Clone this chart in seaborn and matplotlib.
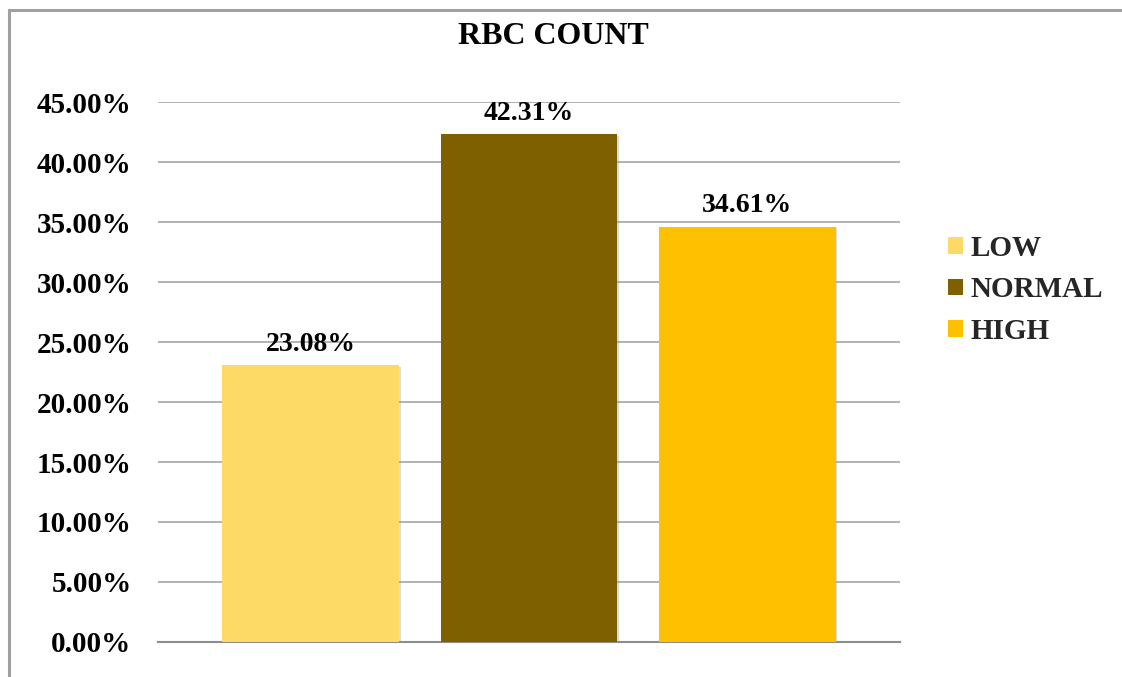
import matplotlib
matplotlib.use("Agg")
import matplotlib.pyplot as plt
import matplotlib.patheffects as pe
from matplotlib.lines import Line2D
from matplotlib.patches import Patch
import seaborn as sns
import pandas as pd

# RBC count distribution
levels = ["LOW", "NORMAL", "HIGH"]
percentages = [23.08, 42.31, 34.61]
bar_colors = ["#FDD966", "#7F6000", "#FFC000"]
y_ticks = [0, 5, 10, 15, 20, 25, 30, 35, 40, 45]
y_tick_labels = ["0.00%", "5.00%", "10.00%", "15.00%", "20.00%",
                 "25.00%", "30.00%", "35.00%", "40.00%", "45.00%"]
title = "RBC COUNT"

sns.set_theme(style="white")
plt.rcParams["font.family"] = ["Liberation Serif", "DejaVu Serif"]
plt.rcParams["font.weight"] = "bold"

df = pd.DataFrame({"level": levels, "pct": percentages})
palette = dict(zip(levels, bar_colors))

W, H = 1122, 677
fig = plt.figure(figsize=(W / 100, H / 100), dpi=100)
ax = fig.add_axes([158 / W, 1 - 642 / H, (900 - 158) / W, (642 - 102) / H])

sns.barplot(data=df, x="level", y="pct", hue="level", order=levels,
            hue_order=levels, palette=palette, saturation=1, width=0.81,
            dodge=False, legend=False, ax=ax, zorder=3)

shadow = [pe.SimplePatchShadow(offset=(1.2, -1.2), shadow_rgbFace="#9a9a9a",
                               alpha=0.35), pe.Normal()]
for patch in ax.patches:
    patch.set_path_effects(shadow)
    patch.set_edgecolor("none")

ax.set_xlim(-0.70, 2.70)
ax.set_ylim(0, 45)
ax.set_yticks(y_ticks)
ax.set_yticklabels(y_tick_labels, fontsize=21, fontweight="bold", color="black")
ax.tick_params(axis="y", length=0, pad=19)
ax.set_xticks([])
ax.set_xlabel("")
ax.set_ylabel("")
ax.yaxis.grid(True, color="#A6A6A6", linewidth=1.2, zorder=0)
ax.set_axisbelow(True)
for side in ["top", "right", "left"]:
    ax.spines[side].set_visible(False)
ax.spines["bottom"].set_color("#8C8C8C")
ax.spines["bottom"].set_linewidth(1.5)

for i, val in enumerate(percentages):
    ax.annotate(f"{val:.2f}%", (i, val), xytext=(0, 6), textcoords="offset points",
                ha="center", va="bottom", fontsize=20, fontweight="bold",
                color="black", zorder=5)

fig.text(553 / W, 1 - 36 / H, title, ha="center", va="center",
         fontsize=23, fontweight="bold", color="black")

handles = [Patch(facecolor=c, edgecolor="none") for c in bar_colors]
fig.legend(handles, levels, loc="center left", bbox_to_anchor=(928 / W, 1 - 290 / H),
           frameon=False, prop={"size": 21, "weight": "bold"},
           handlelength=0.5, handleheight=0.5, handletextpad=0.25,
           labelspacing=0.5, borderpad=0.2)

# outer chart frame
frame_kw = dict(transform=fig.transFigure, color="#A0A0A0", linewidth=2.2)
fig.add_artist(Line2D([9 / W, 1], [1 - 10 / H, 1 - 10 / H], **frame_kw))
fig.add_artist(Line2D([9 / W, 9 / W], [0, 1 - 10 / H], **frame_kw))

fig.savefig("out.png", dpi=100)
